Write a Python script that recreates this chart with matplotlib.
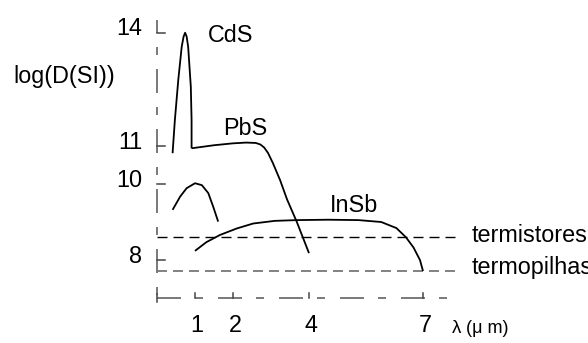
import matplotlib
matplotlib.use("Agg")
import matplotlib.pyplot as plt

plt.rcParams['font.family'] = ['Liberation Sans', 'DejaVu Sans']
plt.rcParams['lines.scale_dashes'] = False

# Data (wavelength in micrometers, log detectivity)
cds_x = [0.41, 0.47, 0.56, 0.65, 0.70, 0.74, 0.78, 0.82, 0.89, 0.91, 0.91]
cds_y = [10.81, 11.68, 12.74, 13.61, 13.88, 13.98, 13.88, 13.61, 12.56, 11.68, 10.94]

pbs_x = [0.91, 1.5, 2.0, 2.35, 2.6, 2.72, 2.82, 2.92, 3.05, 3.24, 3.42, 3.68, 4.0]
pbs_y = [10.94, 11.02, 11.07, 11.09, 11.08, 11.04, 10.96, 10.82, 10.55, 10.1, 9.6, 9.0, 8.18]

ge_x = [0.41, 0.61, 0.78, 1.0, 1.18, 1.35, 1.48, 1.61]
ge_y = [9.32, 9.67, 9.89, 10.02, 9.97, 9.76, 9.40, 9.01]

insb_x = [1.0, 1.3, 1.66, 2.1, 2.53, 3.1, 3.68, 4.5, 5.3, 5.9, 6.3, 6.55, 6.75, 6.92, 7.0]
insb_y = [8.24, 8.47, 8.66, 8.83, 8.96, 9.03, 9.05, 9.06, 9.05, 9.0, 8.84, 8.6, 8.33, 8.0, 7.71]

termistores_y = 8.6
termopilhas_y = 7.71

y_ticks = [8, 10, 11, 14]
x_ticks = [1, 2, 4, 7]

fig = plt.figure(figsize=(5.88, 3.43), dpi=100)
ax = fig.add_axes([0, 0, 1, 1])
ppu = 38.0
ax.set_xlim(-157 / ppu, (588 - 157) / ppu)
ax.set_ylim(8 - (343 - 260) / ppu, 8 + 260 / ppu)
ax.axis('off')

pt = 0.72  # points per pixel
axis_ls = (0, (24 * pt, 14 * pt, 8 * pt, 15 * pt))
axis_ls_y = (11 * pt, (24 * pt, 14 * pt, 8 * pt, 14 * pt))

# axes (dash-dot style)
ax.plot([0, 0], [14.32, 6.9], color='#555555', lw=1.1, linestyle=axis_ls_y)
ax.plot([0, 7.66], [7.0, 7.0], color='#555555', lw=1.1, linestyle=axis_ls)
for yt in y_ticks:
    yy = yt - 0.03 if yt == 14 else yt
    ax.plot([0, 0.21], [yy, yy], color='#444444', lw=1.1)
ax.plot([0, 0], [6.9, 7.1], color='#444444', lw=1.1)
for xt in x_ticks:
    ax.plot([xt, xt], [7.0, 7.12], color='#444444', lw=1.1)

# reference dashed lines
ax.plot([0, 7.84], [termistores_y, termistores_y], color='black', lw=1.0,
        linestyle=(0, (10 * pt, 6 * pt)))
ax.plot([0, 7.84], [termopilhas_y, termopilhas_y], color='#777777', lw=1.3,
        linestyle=(0, (10 * pt, 6 * pt)))

# curves
for xs, ys in [(cds_x, cds_y), (pbs_x, pbs_y), (ge_x, ge_y), (insb_x, insb_y)]:
    ax.plot(xs, ys, color='black', lw=1.3, solid_capstyle='butt', solid_joinstyle='round')

fs = 16.8
ax.text(1.34, 13.74, 'CdS', fontsize=fs, va='baseline', ha='left')
ax.text(1.74, 11.29, 'PbS', fontsize=fs, va='baseline', ha='left')
ax.text(4.55, 9.26, 'InSb', fontsize=fs, va='baseline', ha='left')
ax.text(8.29, 8.47, 'termistores', fontsize=fs, va='baseline', ha='left')
ax.text(8.29, 7.63, 'termopilhas', fontsize=fs, va='baseline', ha='left')

for yt in y_ticks:
    ax.text(-0.39, yt - 0.08, str(yt), fontsize=fs, va='baseline', ha='right')
for xt in x_ticks:
    ax.text(xt + 0.05, 6.1, str(xt), fontsize=fs, va='baseline', ha='center')

ax.text(-3.79, 12.66, 'log(D(SI))', fontsize=fs, va='baseline', ha='left')
ax.text(7.76, 6.08, 'λ', fontsize=13.5, va='baseline', ha='left')
ax.text(8.13, 6.08, '(μ m)', fontsize=13, va='baseline', ha='left')

fig.savefig('out.png', dpi=100)
